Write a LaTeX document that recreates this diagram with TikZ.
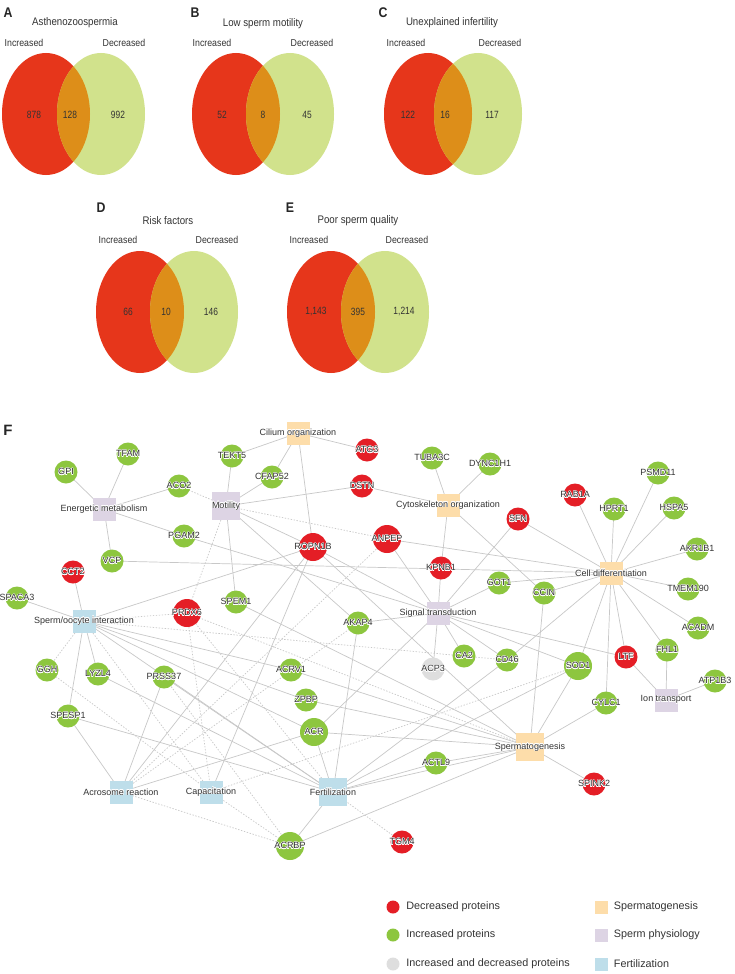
\documentclass[tikz,border=0pt]{standalone}
\usepackage{fontspec}
\usepackage[copies]{contour}
\setmainfont{Liberation Sans}
\newfontfamily\narrowsans[FakeStretch=0.88]{Liberation Sans}
\newfontfamily\numsans[FakeStretch=0.8]{Liberation Sans}
\usetikzlibrary{positioning,backgrounds}
\contourlength{0.4pt}
\contournumber{12}

\definecolor{vennred}{HTML}{E6361B}
\definecolor{venngreen}{HTML}{D1E28C}
\definecolor{vennover}{HTML}{DD8E19}
\definecolor{protred}{HTML}{E41E26}
\definecolor{protgreen}{HTML}{8DC63F}
\definecolor{protgray}{HTML}{DEDEDE}
\definecolor{termorange}{HTML}{FDDDAA}
\definecolor{termpurple}{HTML}{DDD4E4}
\definecolor{termblue}{HTML}{BEDEEA}
\definecolor{edgegray}{HTML}{C8C8C8}
\definecolor{inkgray}{HTML}{333333}

% text with a white halo that does not widen its node
\newcommand{\zw}[1]{\makebox[0pt]{\contour{white}{#1}}}

\tikzset{
  venntitle/.style={inner sep=0pt, font=\narrowsans\fontsize{11}{13}\selectfont, text=inkgray},
  vennlabel/.style={inner sep=0pt, font=\narrowsans\fontsize{10}{12}\selectfont, text=inkgray},
  vennnum/.style={inner sep=0pt, font=\numsans\fontsize{10.5}{12}\selectfont, text=inkgray},
  panel/.style={inner sep=0pt, font=\narrowsans\bfseries\fontsize{14}{16}\selectfont, text=black!85},
  prot/.style={circle, minimum size=23pt, inner sep=0pt, font=\fontsize{9}{10}\selectfont, text=inkgray},
  decprot/.style={prot, fill=protred},
  incprot/.style={prot, fill=protgreen},
  bothprot/.style={prot, fill=protgray},
  bignode/.style={minimum size=28pt},
  term/.style={rectangle, minimum size=23pt, inner sep=0pt, font=\fontsize{9}{10}\selectfont, text=inkgray},
  spgterm/.style={term, fill=termorange},
  physterm/.style={term, fill=termpurple},
  fertterm/.style={term, fill=termblue},
  link/.style={draw=edgegray, line width=0.7pt},
  dlink/.style={link, dash pattern=on 1.4pt off 1.6pt},
  legtxt/.style={inner sep=0pt, font=\fontsize{10.8}{12}\selectfont, text=inkgray}
}

\begin{document}
\begin{tikzpicture}[x=1pt, y=-1pt]
  \useasboundingbox (0,0) rectangle (735,974);

  % Venn diagrams A-E
  \foreach \rx/\gx/\cy in {46/101/114, 236/290/114, 428/478/114, 140/194/312, 331/385/312} {
    \fill[vennred] (\rx,\cy) ellipse [x radius=44, y radius=61];
    \fill[venngreen] (\gx,\cy) ellipse [x radius=44, y radius=61];
    \begin{scope}
      \clip (\rx,\cy) ellipse [x radius=44, y radius=61];
      \fill[vennover] (\gx,\cy) ellipse [x radius=44, y radius=61];
    \end{scope}
  }

  \node[panel] (pA) at (8,13) {A};
  \node[panel] (pB) at (195,13) {B};
  \node[panel] (pC) at (383,13) {C};
  \node[panel] (pD) at (101,208) {D};
  \node[panel] (pE) at (290,208) {E};

  \node[venntitle] (tA) at (75,23) {Asthenozoospermia};
  \node[venntitle] (tB) at (263,24) {Low sperm motility};
  \node[venntitle] (tC) at (452,23) {Unexplained infertility};
  \node[venntitle] (tD) at (168,221) {Risk factors};
  \node[venntitle] (tE) at (358,221) {Poor sperm quality};

  \foreach \ix/\dx/\ly [count=\k] in {24/124/43, 212/312/43, 406/500/43, 118/217/240, 309/407/240} {
    \node[vennlabel] (inc\k) at (\ix,\ly) {Increased};
    \node[vennlabel] (dec\k) at (\dx,\ly) {Decreased};
  }

  \node[vennnum] (nA1) at (34,115) {878};
  \node[vennnum] (nA2) at (70,115) {128};
  \node[vennnum] (nA3) at (118,115) {992};
  \node[vennnum] (nB1) at (222,115) {52};
  \node[vennnum] (nB2) at (263,115) {8};
  \node[vennnum] (nB3) at (307,115) {45};
  \node[vennnum] (nC1) at (408,115) {122};
  \node[vennnum] (nC2) at (445,115) {16};
  \node[vennnum] (nC3) at (492,115) {117};
  \node[vennnum] (nD1) at (128,312) {66};
  \node[vennnum] (nD2) at (166,312) {10};
  \node[vennnum] (nD3) at (211,312) {146};
  \node[vennnum] (nE1) at (316,312) {1,143};
  \node[vennnum] (nE2) at (358,312) {395};
  \node[vennnum] (nE3) at (404,312) {1,214};

  % Network F
  \node[panel, font=\bfseries\fontsize{15}{17}\selectfont] (pF) at (8,430) {F};

  % functional terms
  \node[spgterm] (cil) at (298,433) {\zw{Cilium organization}};
  \node[spgterm] (cyt) at (448,505) {\zw{Cytoskeleton organization}};
  \node[spgterm] (cell) at (611,573) {\zw{Cell differentiation}};
  \node[spgterm, bignode] (sperm) at (530,747) {\zw{Spermatogenesis}};
  \node[physterm] (ener) at (104,509) {\zw{Energetic metabolism}};
  \node[physterm, bignode] (mot) at (226,506) {\zw{Motility}};
  \node[physterm] (sig) at (438,613) {\zw{Signal transduction}};
  \node[physterm] (ion) at (666,700) {\zw{Ion transport}};
  \node[fertterm] (soi) at (84,621) {\zw{Sperm/oocyte interaction}};
  \node[fertterm] (acro) at (121,792) {\zw{Acrosome reaction}};
  \node[fertterm] (cap) at (211,792) {\zw{Capacitation}};
  \node[fertterm, bignode] (fert) at (333,792) {\zw{Fertilization}};

  % decreased proteins
  \node[decprot] (atg) at (367,450) {\zw{ATG3}};
  \node[decprot] (dstn) at (362,486) {\zw{DSTN}};
  \node[decprot, bignode] (ropn) at (313,547) {\zw{ROPN1B}};
  \node[decprot, bignode] (anpep) at (387,539) {\zw{ANPEP}};
  \node[decprot] (sfn) at (518,519) {\zw{SFN}};
  \node[decprot] (kpnb) at (441,568) {\zw{KPNB1}};
  \node[decprot] (rab) at (575,495) {\zw{RAB1A}};
  \node[decprot] (cct) at (73,572) {\zw{CCT2}};
  \node[decprot, bignode] (prdx) at (187,613) {\zw{PRDX6}};
  \node[decprot] (ltf) at (626,657) {\zw{LTF}};
  \node[decprot] (spink) at (594,784) {\zw{SPINK2}};
  \node[decprot] (tgm) at (402,842) {\zw{TGM4}};

  % increased proteins
  \node[incprot] (tfam) at (128,454) {\zw{TFAM}};
  \node[incprot] (gpi) at (66,472) {\zw{GPI}};
  \node[incprot] (aco) at (179,486) {\zw{ACO2}};
  \node[incprot] (tekt) at (232,456) {\zw{TEKT5}};
  \node[incprot] (cfap) at (272,477) {\zw{CFAP52}};
  \node[incprot] (pgam) at (184,536) {\zw{PGAM2}};
  \node[incprot] (vcp) at (112,561) {\zw{VCP}};
  \node[incprot] (tuba) at (432,458) {\zw{TUBA3C}};
  \node[incprot] (dync) at (490,464) {\zw{DYNC1H1}};
  \node[incprot] (hprt) at (614,509) {\zw{HPRT1}};
  \node[incprot] (psmd) at (658,473) {\zw{PSMD11}};
  \node[incprot] (hspa) at (674,508) {\zw{HSPA5}};
  \node[incprot] (akr) at (697,549) {\zw{AKR1B1}};
  \node[incprot] (tmem) at (688,589) {\zw{TMEM190}};
  \node[incprot] (acadm) at (698,628) {\zw{ACADM}};
  \node[incprot] (fhl) at (667,650) {\zw{FHL1}};
  \node[incprot] (atp) at (715,681) {\zw{ATP1B3}};
  \node[incprot] (got) at (499,583) {\zw{GOT1}};
  \node[incprot] (ccin) at (544,593) {\zw{CCIN}};
  \node[incprot] (ca) at (464,656) {\zw{CA2}};
  \node[incprot] (cd) at (507,660) {\zw{CD46}};
  \node[incprot, bignode] (sod) at (578,666) {\zw{SOD1}};
  \node[incprot] (cylc) at (606,703) {\zw{CYLC1}};
  \node[incprot] (spaca) at (17,598) {\zw{SPACA3}};
  \node[incprot] (spem) at (236,602) {\zw{SPEM1}};
  \node[incprot] (akap) at (358,623) {\zw{AKAP4}};
  \node[incprot] (ggh) at (47,670) {\zw{GGH}};
  \node[incprot] (lyzl) at (98,674) {\zw{LYZL4}};
  \node[incprot] (prss) at (164,677) {\zw{PRSS37}};
  \node[incprot] (acrv) at (291,670) {\zw{ACRV1}};
  \node[incprot] (zpbp) at (306,700) {\zw{ZPBP}};
  \node[incprot, bignode] (acr) at (314,732) {\zw{ACR}};
  \node[incprot] (spesp) at (68,716) {\zw{SPESP1}};
  \node[incprot] (actl) at (436,763) {\zw{ACTL9}};
  \node[incprot, bignode] (acrbp) at (290,846) {\zw{ACRBP}};

  % increased and decreased
  \node[bothprot] (acp) at (433,669) {\zw{ACP3}};

  % connectors
  \begin{scope}[on background layer]
    \fill[white] (0,0) rectangle (735,974);
    \foreach \a/\b in {ener/gpi, ener/tfam, ener/aco, ener/vcp, ener/pgam,
        cil/tekt, cil/cfap, cil/atg, cil/ropn,
        mot/tekt, mot/cfap, mot/dstn, mot/ropn, mot/spem, mot/akap,
        cyt/tuba, cyt/dync, cyt/dstn, cyt/kpnb, cyt/ccin,
        cell/sfn, cell/anpep, cell/got, cell/ccin, cell/rab, cell/hprt, cell/psmd,
        cell/hspa, cell/akr, cell/tmem, cell/acadm, cell/fhl, cell/ltf, cell/cylc,
        cell/sod, cell/cd, cell/vcp,
        sig/kpnb, sig/anpep, sig/sfn, sig/got, sig/ca, sig/cd, sig/acp, sig/sod,
        sig/ltf, sig/akap, sig/ropn, sig/pgam, sig/acr,
        ion/fhl, ion/ltf, ion/atp,
        sperm/ccin, sperm/sod, sperm/cylc, sperm/spink, sperm/actl, sperm/spem,
        sperm/acrv, sperm/zpbp, sperm/acrbp, sperm/ropn, sperm/fert, sperm/acr,
        soi/cct, soi/spaca, soi/lyzl, soi/spesp, soi/ropn, soi/acrv, soi/zpbp,
        soi/acr, soi/fert,
        acro/spesp, acro/prss, acro/ropn, acro/acr, cap/ropn,
        fert/akap, fert/acr, fert/acrbp, fert/actl, fert/cd, fert/sod, fert/lyzl,
        fert/spesp, fert/prss}
      \draw[link] (\a.center) -- (\b.center);
    \foreach \a/\b in {mot/aco, mot/anpep, mot/prdx, soi/ggh, soi/prdx, soi/cd,
        soi/cap, acro/acrbp, acro/akap, acro/anpep, cap/prdx, cap/acrbp, cap/sod,
        cap/ggh, fert/tgm, fert/prdx, sperm/prdx, prss/acrbp}
      \draw[dlink] (\a.center) -- (\b.center);
  \end{scope}

  % legend
  \node[decprot, minimum size=13pt] (ldec) at (393,907) {};
  \node[incprot, minimum size=13pt] (linc) at (393,935) {};
  \node[bothprot, minimum size=13pt] (lboth) at (393,964) {};
  \node[legtxt, right=6.5pt of ldec] (ldectxt) {Decreased proteins};
  \node[legtxt, right=6.5pt of linc] (linctxt) {Increased proteins};
  \node[legtxt, right=6.5pt of lboth] (lbothtxt) {Increased and decreased proteins};
  \node[spgterm, minimum size=13pt] (lspg) at (601,907) {};
  \node[physterm, minimum size=13pt] (lphys) at (601,935) {};
  \node[fertterm, minimum size=13pt] (lfert) at (601,964) {};
  \node[legtxt, right=6pt of lspg] (lspgtxt) {Spermatogenesis};
  \node[legtxt, right=6pt of lphys] (lphystxt) {Sperm physiology};
  \node[legtxt, right=6pt of lfert] (lferttxt) {Fertilization};
\end{tikzpicture}
\end{document}
